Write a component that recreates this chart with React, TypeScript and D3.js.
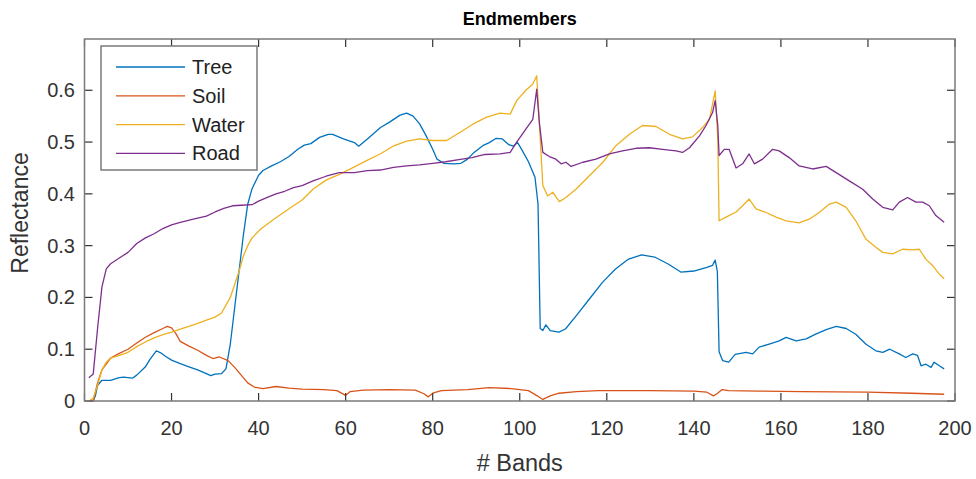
import React, { useEffect, useRef } from 'react';
import * as d3 from 'd3';

// series values, read as [band, reflectance]
const tree: [number, number][] = [
  [1, 0], [2, 0], [2.5, 0.01], [3, 0.03], [4, 0.04], [6, 0.04], [8, 0.045], [9, 0.046], [11, 0.044],
  [12, 0.05], [14, 0.066], [15, 0.08], [16.5, 0.097], [17.5, 0.093], [18.5, 0.087], [20, 0.079],
  [22, 0.072], [24, 0.066], [26, 0.06], [28, 0.053], [29, 0.049], [30, 0.052], [31.5, 0.053],
  [32.5, 0.062], [33.5, 0.11], [34.5, 0.18], [35.5, 0.25], [36.5, 0.32], [37.5, 0.38], [38.5, 0.41],
  [40, 0.436], [41, 0.445], [43, 0.454], [45, 0.462], [47, 0.472], [49, 0.486], [50.5, 0.494],
  [52, 0.497], [54, 0.509], [56, 0.515], [57, 0.515], [59.5, 0.506], [62, 0.499], [63, 0.492],
  [65, 0.506], [68, 0.528], [70, 0.538], [72.5, 0.552], [74, 0.556], [75.5, 0.55], [77, 0.535],
  [78.5, 0.512], [80, 0.486], [81, 0.467], [82.5, 0.459], [85, 0.458], [86.5, 0.459], [88, 0.467],
  [89.5, 0.48], [91.5, 0.493], [93, 0.499], [94.5, 0.507], [96, 0.506], [97.5, 0.495], [98.5, 0.492],
  [99.5, 0.499], [100.5, 0.485], [102, 0.462], [103.5, 0.432], [104.2, 0.38], [104.7, 0.14],
  [105.3, 0.136], [106, 0.147], [107, 0.136], [109, 0.133], [110.5, 0.139], [113, 0.165], [116, 0.197],
  [119, 0.229], [122, 0.255], [125, 0.274], [128, 0.282], [131, 0.278], [134, 0.265], [137, 0.249],
  [140, 0.251], [143, 0.258], [144.3, 0.262], [144.9, 0.272], [145.4, 0.25], [145.8, 0.095],
  [146.6, 0.078], [148, 0.075], [149.5, 0.09], [152, 0.094], [153.5, 0.091], [155, 0.104],
  [157.3, 0.11], [159.6, 0.116], [161.2, 0.123], [163.5, 0.116], [165.8, 0.12], [168, 0.129],
  [170.4, 0.138], [172.7, 0.144], [175, 0.14], [177.2, 0.129], [179.5, 0.11], [181.8, 0.097],
  [183.4, 0.094], [185, 0.1], [187.2, 0.091], [188.7, 0.084], [190.3, 0.091], [191.4, 0.088],
  [192.2, 0.068], [193.3, 0.071], [194.5, 0.065], [195.2, 0.075], [196.4, 0.068], [197.5, 0.062],
];

const soil: [number, number][] = [
  [1, 0], [2, 0], [3, 0.035], [4, 0.06], [6, 0.083], [8, 0.092], [10, 0.1], [12, 0.112], [14, 0.123],
  [16, 0.132], [18, 0.14], [19, 0.144], [20, 0.141], [21, 0.13], [22, 0.115], [24, 0.106], [26, 0.098],
  [28, 0.088], [29.5, 0.082], [31, 0.085], [33, 0.078], [34.5, 0.065], [36, 0.05], [37.5, 0.035],
  [39, 0.027], [41, 0.024], [44, 0.028], [47, 0.025], [50, 0.023], [55, 0.022], [58, 0.02], [60, 0.011],
  [61, 0.018], [64, 0.021], [70, 0.022], [76, 0.021], [78, 0.014], [79, 0.008], [80, 0.015], [82, 0.02],
  [88, 0.022], [93, 0.026], [98, 0.024], [102, 0.02], [104, 0.01], [105.3, 0.003], [107, 0.01],
  [109, 0.015], [113, 0.018], [118, 0.02], [130, 0.02], [140, 0.019], [143, 0.017], [144.5, 0.01],
  [145.3, 0.014], [146.5, 0.022], [148, 0.02], [155, 0.019], [165, 0.018], [180, 0.017], [190, 0.015],
  [197.5, 0.013],
];

const water: [number, number][] = [
  [1, 0], [2, 0.005], [3, 0.03], [4, 0.06], [5, 0.075], [6, 0.083], [8, 0.088], [10, 0.094],
  [12, 0.105], [14, 0.114], [16, 0.122], [18, 0.128], [20, 0.133], [22, 0.139], [24, 0.144], [26, 0.15],
  [28, 0.156], [30, 0.162], [31.5, 0.17], [32.5, 0.185], [33.5, 0.2], [34.5, 0.225], [35.5, 0.25],
  [36.5, 0.28], [37.5, 0.3], [38.5, 0.315], [40.5, 0.332], [43.5, 0.351], [47.5, 0.374], [50, 0.388],
  [52.6, 0.41], [55.6, 0.427], [58.7, 0.438], [61.8, 0.451], [64.8, 0.464], [67.9, 0.477], [70.9, 0.492],
  [74, 0.502], [77, 0.506], [80, 0.503], [83.2, 0.503], [86.3, 0.519], [89.3, 0.535], [92.4, 0.548],
  [95.5, 0.556], [97.8, 0.554], [99.3, 0.58], [101.4, 0.6], [103, 0.612], [103.9, 0.628], [104.5, 0.538],
  [105.3, 0.416], [106.4, 0.396], [107.6, 0.403], [109.1, 0.385], [110.6, 0.393], [112.9, 0.409],
  [116, 0.435], [119.1, 0.461], [122.1, 0.493], [125.2, 0.515], [128.2, 0.532], [131.3, 0.53],
  [134.4, 0.515], [137.4, 0.506], [139.7, 0.51], [142, 0.528], [143.6, 0.544], [144.9, 0.599],
  [145.5, 0.506], [145.8, 0.348], [147.4, 0.355], [149.7, 0.365], [151.2, 0.377], [152.7, 0.39],
  [154.3, 0.371], [156.6, 0.364], [158.9, 0.355], [161.2, 0.348], [164.2, 0.344], [166.5, 0.351],
  [168.8, 0.364], [171.1, 0.38], [172.7, 0.384], [175, 0.374], [177.2, 0.348], [179.5, 0.313],
  [181.8, 0.297], [183.4, 0.287], [185.7, 0.284], [187.9, 0.293], [190.3, 0.292], [191.8, 0.293],
  [193.3, 0.274], [194.9, 0.261], [196.4, 0.245], [197.5, 0.236],
];

const road: [number, number][] = [
  [1, 0.045], [2, 0.052], [3, 0.14], [4, 0.22], [5, 0.255], [6, 0.265], [8, 0.276], [10, 0.287],
  [12, 0.304], [14, 0.315], [16, 0.323], [18, 0.333], [20, 0.34], [22, 0.345], [25, 0.351], [28, 0.357],
  [30, 0.365], [32, 0.372], [34, 0.377], [36, 0.378], [38.5, 0.379], [40, 0.386], [42, 0.393], [44, 0.4],
  [46, 0.405], [48, 0.412], [50, 0.416], [52.5, 0.425], [55.5, 0.434], [58.5, 0.441], [62, 0.441],
  [65, 0.445], [68, 0.446], [71, 0.451], [74, 0.454], [77, 0.456], [80, 0.459], [83, 0.462], [86, 0.466],
  [89, 0.47], [92, 0.476], [95.5, 0.477], [97.8, 0.48], [99.3, 0.5], [101.4, 0.525], [103, 0.544],
  [103.9, 0.602], [104.5, 0.538], [105.3, 0.48], [106.8, 0.472], [108.3, 0.467], [109.5, 0.458],
  [110.6, 0.461], [111.8, 0.453], [114.5, 0.461], [117.5, 0.467], [120.6, 0.477], [123.6, 0.483],
  [126.7, 0.488], [129.8, 0.489], [132.8, 0.486], [135.9, 0.483], [137.4, 0.48], [139, 0.489],
  [141.3, 0.512], [142.8, 0.532], [144.3, 0.557], [144.9, 0.58], [145.5, 0.532], [145.8, 0.474],
  [147, 0.486], [148.1, 0.486], [149.7, 0.45], [151.2, 0.458], [152.7, 0.477], [153.9, 0.458],
  [155.8, 0.467], [158.1, 0.486], [159.6, 0.483], [161.9, 0.47], [164.2, 0.454], [167.3, 0.448],
  [170.4, 0.453], [172.7, 0.441], [175.7, 0.425], [178.8, 0.409], [181.1, 0.39], [183.4, 0.374],
  [185.7, 0.369], [187.2, 0.384], [189.1, 0.393], [191, 0.384], [192.6, 0.384], [194.1, 0.377],
  [195.6, 0.358], [197.5, 0.345],
];

const seriesNames = ['Tree', 'Soil', 'Water', 'Road'];
const xTicks = [0, 20, 40, 60, 80, 100, 120, 140, 160, 180, 200];
const yTicks = [0, 0.1, 0.2, 0.3, 0.4, 0.5, 0.6];

const colors = ['#0072BD', '#D95319', '#EDB120', '#7E2F8E'];
const FONT = '"Liberation Sans", Arial, Helvetica, sans-serif';

const App = () => {
  const ref = useRef<SVGSVGElement>(null);

  useEffect(() => {
    const svg = d3.select(ref.current);
    svg.selectAll('*').remove();

    const left = 84.5, right = 955, top = 39, bottom = 401;
    const x = d3.scaleLinear().domain([0, 200]).range([left, right]);
    const y = d3.scaleLinear().domain([0, 0.699]).range([bottom, top]);

    svg.append('rect').attr('width', 976).attr('height', 479).attr('fill', '#fff');

    // data lines
    const line = d3.line<[number, number]>().x(d => x(d[0])).y(d => y(d[1]));
    [tree, soil, water, road].forEach((s, i) => {
      svg.append('path')
        .datum(s)
        .attr('d', line)
        .attr('fill', 'none')
        .attr('stroke', colors[i])
        .attr('stroke-width', 1.3)
        .attr('stroke-linejoin', 'round');
    });

    // ticks, inside on all four sides
    const tk = 8;
    const ticks = svg.append('g').attr('stroke', '#333').attr('stroke-width', 1.2);
    xTicks.forEach(t => {
      ticks.append('line').attr('x1', x(t)).attr('x2', x(t)).attr('y1', bottom).attr('y2', bottom - tk);
      ticks.append('line').attr('x1', x(t)).attr('x2', x(t)).attr('y1', top).attr('y2', top + tk);
    });
    yTicks.forEach(t => {
      ticks.append('line').attr('x1', left).attr('x2', left + tk).attr('y1', y(t)).attr('y2', y(t));
      ticks.append('line').attr('x1', right).attr('x2', right - tk).attr('y1', y(t)).attr('y2', y(t));
    });

    // box
    svg.append('rect')
      .attr('x', left).attr('y', top)
      .attr('width', right - left).attr('height', bottom - top)
      .attr('fill', 'none').attr('stroke', '#7a7a7a').attr('stroke-width', 1.5);

    // tick labels
    svg.append('g').selectAll('text').data(xTicks).enter().append('text')
      .attr('x', d => x(d)).attr('y', 435)
      .attr('text-anchor', 'middle')
      .attr('font-family', FONT).attr('font-size', 20).attr('fill', '#333')
      .text(d => String(d));
    svg.append('g').selectAll('text').data(yTicks).enter().append('text')
      .attr('x', 75).attr('y', d => y(d) + 7)
      .attr('text-anchor', 'end')
      .attr('font-family', FONT).attr('font-size', 20).attr('fill', '#333')
      .text(d => (d === 0 ? '0' : d.toFixed(1)));

    // title and axis labels
    svg.append('text')
      .attr('x', (left + right) / 2).attr('y', 25)
      .attr('text-anchor', 'middle')
      .attr('font-family', FONT).attr('font-size', 18).attr('font-weight', 'bold').attr('fill', '#000')
      .text('Endmembers');
    svg.append('text')
      .attr('x', (left + right) / 2).attr('y', 471)
      .attr('text-anchor', 'middle')
      .attr('font-family', FONT).attr('font-size', 23.5).attr('fill', '#333')
      .text('# Bands');
    svg.append('text')
      .attr('transform', 'translate(28,213) rotate(-90)')
      .attr('text-anchor', 'middle')
      .attr('font-family', FONT).attr('font-size', 23).attr('fill', '#333')
      .text('Reflectance');

    // legend
    const lg = svg.append('g');
    lg.append('rect')
      .attr('x', 101).attr('y', 46).attr('width', 156).attr('height', 124)
      .attr('fill', '#fff').attr('stroke', '#7a7a7a').attr('stroke-width', 1.5);
    seriesNames.forEach((name, i) => {
      const cy = 67 + i * 28.8;
      lg.append('line')
        .attr('x1', 116).attr('x2', 185).attr('y1', cy).attr('y2', cy)
        .attr('stroke', colors[i]).attr('stroke-width', 1.3);
      lg.append('text')
        .attr('x', 192).attr('y', cy + 7)
        .attr('font-family', FONT).attr('font-size', 20).attr('fill', '#222')
        .text(name);
    });
  }, []);

  return (
    <svg
      ref={ref}
      width={976}
      height={479}
      style={{ position: 'absolute', left: 0, top: 0, display: 'block' }}
    />
  );
};

export default App;
